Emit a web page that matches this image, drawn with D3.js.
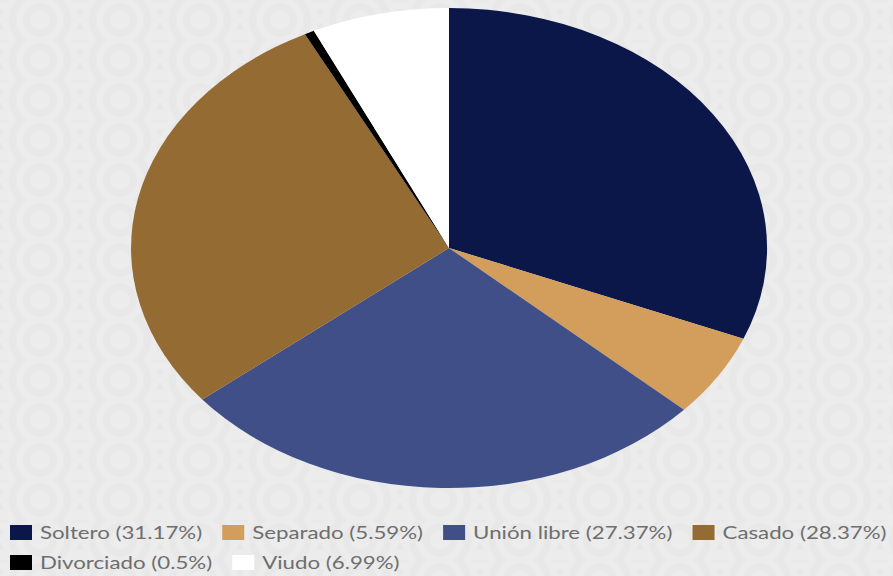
<!DOCTYPE html>
<html><head><meta charset="utf-8">
<script src="https://cdn.jsdelivr.net/npm/d3@7"></script>
<style>html,body{margin:0;padding:0;background:#eaeaea;}svg{display:block;}</style>
</head><body>
<svg id="chart" width="893" height="576"></svg>
<script>
const categories = ["Soltero", "Separado", "Unión libre", "Casado", "Divorciado", "Viudo"];
const values = [31.17, 5.59, 27.37, 28.37, 0.5, 6.99];
const colors = ["#0b1748", "#d39d5c", "#404f87", "#946b32", "#000000", "#ffffff"];

const W = 893, H = 576;
const svg = d3.select("#chart");

// background texture (subtle seigaiha)
const defs = svg.append("defs");
const pat = defs.append("pattern").attr("id","wave").attr("patternUnits","userSpaceOnUse")
  .attr("width",80).attr("height",40);
pat.append("rect").attr("width",80).attr("height",40).attr("fill","#e9e9e9");
const drawScale = (cx, cy) => {
  [38,31,24,17,10].forEach((r,i)=>{
    pat.append("circle").attr("cx",cx).attr("cy",cy).attr("r",r)
      .attr("fill", i%2===0 ? "#ececec" : "#e8e8e8");
  });
};
drawScale(0,40); drawScale(80,40); drawScale(40,60); drawScale(40,20);
svg.append("rect").attr("width",W).attr("height",H).attr("fill","url(#wave)");

// pie (circle scaled into ellipse)
const cx = 449, cy = 248, rx = 318, ry = 240;
const pie = d3.pie().sort(null).value(d => d.v);
const arc = d3.arc().innerRadius(0).outerRadius(1);
const data = categories.map((c,i)=>({c, v: values[i], col: colors[i]}));
const g = svg.append("g").attr("transform", `translate(${cx},${cy}) scale(${rx},${ry})`);
g.selectAll("path").data(pie(data)).join("path")
  .attr("d", arc)
  .attr("fill", d => d.data.col);

// legend
const sx = 1.31;
const leg = svg.append("g");
let x = 10, y = 525;
const rowH = 30;
data.forEach((d) => {
  const item = leg.append("g");
  const t = item.append("text").attr("font-family","Lato, sans-serif").attr("font-size",17)
    .attr("fill","#6e6e6e").text(`${d.c} (${d.v}%)`);
  const tw = t.node().getComputedTextLength() * sx;
  const iw = 22 + 8 + tw;
  if (x + iw > W) { x = 10; y += rowH; }
  item.attr("transform", `translate(${x},${y})`);
  item.insert("rect","text").attr("width",22).attr("height",15).attr("fill",d.col);
  t.attr("transform", `translate(30,14) scale(${sx},1)`);
  x += iw + 20;
});
</script>
</body></html>
